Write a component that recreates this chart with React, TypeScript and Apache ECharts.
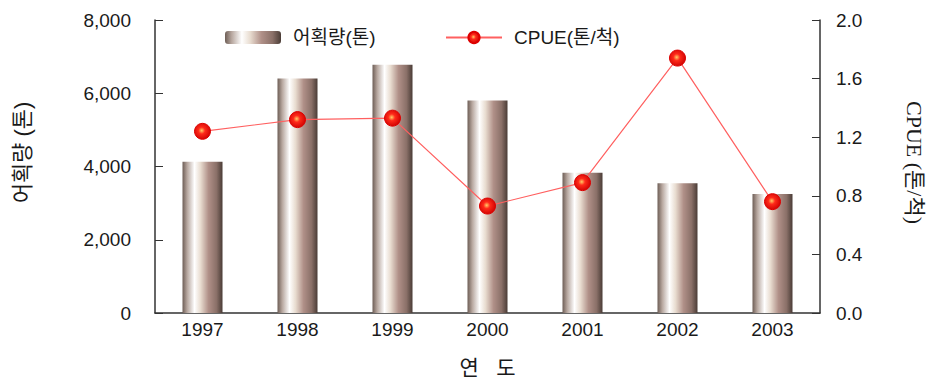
import React, { useEffect, useRef } from "react";
import * as echarts from "echarts";

const years = ["1997", "1998", "1999", "2000", "2001", "2002", "2003"];
const catch_ton = [4130, 6400, 6780, 5800, 3830, 3540, 3250];
const cpue = [1.24, 1.32, 1.33, 0.73, 0.89, 1.74, 0.76];

const FONT = "'Liberation Sans', 'Noto Sans CJK KR', sans-serif";
const SERIF = "'Liberation Serif', 'Noto Sans CJK KR', serif";

export default function App() {
  const ref = useRef<HTMLDivElement>(null);
  useEffect(() => {
    const chart = echarts.init(ref.current!, undefined, { renderer: "svg" });
    const barGrad = new echarts.graphic.LinearGradient(0, 0, 1, 0, [
      { offset: 0, color: "#6e5e56" },
      { offset: 0.12, color: "#b8a8a0" },
      { offset: 0.3, color: "#ffffff" },
      { offset: 0.45, color: "#e8dcd0" },
      { offset: 0.65, color: "#b09088" },
      { offset: 0.85, color: "#8a7068" },
      { offset: 1, color: "#4a3c36" },
    ]);
    const dotGrad = new echarts.graphic.RadialGradient(0.45, 0.45, 0.6, [
      { offset: 0, color: "#ffcc66" },
      { offset: 0.35, color: "#ff2a1a" },
      { offset: 1, color: "#cc0000" },
    ]);
    const legendText = { fontSize: 19, color: "#1a1a1a", fontFamily: FONT, padding: [0, 0, 0, 7] };
    chart.setOption({
      animation: false,
      textStyle: { fontFamily: FONT },
      legend: [
        {
          left: 220,
          top: 23,
          itemWidth: 56,
          itemHeight: 13,
          textStyle: legendText,
          data: [{ name: "어획량(톤)" }],
        },
        {
          left: 440,
          top: 23,
          itemWidth: 56,
          itemHeight: 14,
          textStyle: legendText,
          data: [{ name: "CPUE(톤/척)" }],
        },
      ],
      grid: { left: 155, right: 114, top: 20, bottom: 75 },
      xAxis: {
        type: "category",
        data: years,
        name: "연   도",
        nameLocation: "middle",
        nameGap: 44,
        nameTextStyle: { fontSize: 21, color: "#1a1a1a", fontFamily: FONT },
        axisLine: { lineStyle: { color: "#333", width: 1.5 } },
        axisTick: { inside: true, length: 4, lineStyle: { color: "#333" } },
        axisLabel: { fontSize: 19, color: "#1a1a1a", margin: 7, fontFamily: FONT },
      },
      yAxis: [
        {
          type: "value",
          min: 0,
          max: 8000,
          interval: 2000,
          name: "어획량 (톤)",
          nameLocation: "middle",
          nameRotate: 90,
          nameGap: 122,
          nameTextStyle: { fontSize: 22, color: "#1a1a1a", fontFamily: FONT, padding: [0, 0, 0, 28] },
          axisLine: { show: true, lineStyle: { color: "#333", width: 1.5 } },
          axisTick: { show: true, inside: true, length: 8, lineStyle: { color: "#333" } },
          axisLabel: {
            fontSize: 19,
            color: "#1a1a1a",
            margin: 24,
            fontFamily: FONT,
            formatter: (v: number) => v.toLocaleString("en-US"),
          },
          splitLine: { show: false },
        },
        {
          type: "value",
          min: 0,
          max: 2,
          interval: 0.4,
          name: "CPUE (톤/척)",
          nameLocation: "middle",
          nameRotate: -90,
          nameGap: 84,
          nameTextStyle: { fontSize: 22, color: "#1a1a1a", fontFamily: SERIF, padding: [0, 8, 0, 0] },
          axisLine: { show: true, lineStyle: { color: "#333", width: 1.5 } },
          axisTick: { show: true, inside: true, length: 8, lineStyle: { color: "#333" } },
          axisLabel: {
            fontSize: 19,
            color: "#1a1a1a",
            margin: 16,
            fontFamily: FONT,
            formatter: (v: number) => v.toFixed(1),
          },
          splitLine: { show: false },
        },
      ],
      series: [
        {
          name: "어획량(톤)",
          type: "bar",
          yAxisIndex: 0,
          data: catch_ton,
          barWidth: 40,
          itemStyle: { color: barGrad },
        },
        {
          name: "CPUE(톤/척)",
          type: "line",
          yAxisIndex: 1,
          data: cpue,
          symbol: "circle",
          symbolSize: 16,
          lineStyle: { color: "#ff6060", width: 1.2 },
          itemStyle: { color: dotGrad, borderColor: "#dd0000", borderWidth: 1 },
        },
      ],
    });
    return () => chart.dispose();
  }, []);
  return <div ref={ref} style={{ width: 934, height: 388, margin: -8 }} />;
}
